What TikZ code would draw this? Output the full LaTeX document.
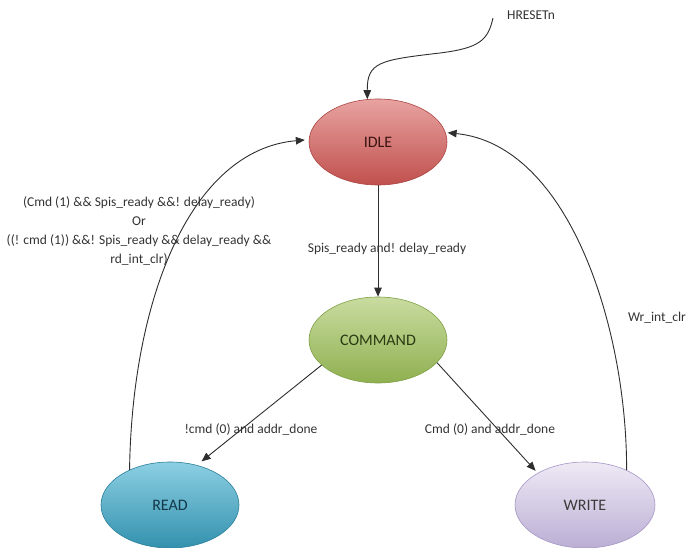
\documentclass[tikz,border=0pt]{standalone}
\usepackage{fontspec}
\setmainfont{Carlito}
\usetikzlibrary{arrows.meta,shapes.geometric}

\definecolor{edgegray}{HTML}{2E2E2E}
\definecolor{lbltext}{HTML}{333333}
% state fills: top, middle, bottom, border, text
\definecolor{idleT}{HTML}{E8A3A1}\definecolor{idleM}{HTML}{D26664}\definecolor{idleB}{HTML}{C0504D}
\definecolor{idleD}{HTML}{A94442}\definecolor{idleX}{HTML}{3B1413}
\definecolor{cmdT}{HTML}{C9DCA0}\definecolor{cmdM}{HTML}{A9C86A}\definecolor{cmdB}{HTML}{8FB050}
\definecolor{cmdD}{HTML}{7F9F44}\definecolor{cmdX}{HTML}{2A3A13}
\definecolor{rdT}{HTML}{8CCFE2}\definecolor{rdM}{HTML}{4BACC6}\definecolor{rdB}{HTML}{3391AE}
\definecolor{rdD}{HTML}{2A7F9A}\definecolor{rdX}{HTML}{12384A}
\definecolor{wrT}{HTML}{EEEAF5}\definecolor{wrM}{HTML}{D5CBE6}\definecolor{wrB}{HTML}{BBAED4}
\definecolor{wrD}{HTML}{A596C4}\definecolor{wrX}{HTML}{3A3A3A}

\tikzset{
  state/.style={ellipse, inner sep=0pt, minimum width=138pt, minimum height=86pt,
    line width=0.6pt, font=\fontsize{16}{18}\selectfont},
  idlestate/.style={state, draw=idleD, top color=idleT, middle color=idleM, bottom color=idleB, text=idleX},
  cmdstate/.style={state, draw=cmdD, top color=cmdT, middle color=cmdM, bottom color=cmdB, text=cmdX},
  readstate/.style={state, draw=rdD, top color=rdT, middle color=rdM, bottom color=rdB, text=rdX},
  writestate/.style={state, draw=wrD, top color=wrT, middle color=wrM, bottom color=wrB, text=wrX},
  lbl/.style={text=lbltext, inner sep=0pt, font=\fontsize{13.5}{19}\selectfont},
  trans/.style={draw=edgegray, line width=0.9pt, -{Triangle[length=9pt,width=7.5pt]}},
}

\begin{document}
\begin{tikzpicture}[x=1pt,y=-1pt]
  \useasboundingbox (0,0) rectangle (696,548);

  % states
  \node[idlestate]  (idle)    at (378,142) {IDLE};
  \node[cmdstate]   (command) at (378,340) {COMMAND};
  \node[readstate]  (read)    at (170,505) {READ};
  \node[writestate, minimum width=140pt] (write) at (585,505) {WRITE};

  % reset input
  \coordinate (rst) at (493,18);
  \node[lbl, anchor=west] (rstlbl) at (507,15) {HRESETn};
  \draw[trans] (rst) .. controls (488,40) and (480,48) .. (440,53)
                     .. controls (380,60) and (367,62) .. (idle.104);

  % transitions
  \draw[trans] (idle) -- (command);
  \draw[trans, shorten >=6pt] (command.204) -- (read.56);
  \draw[trans, shorten >=3pt] (command.339) -- (write.146);
  \draw[trans, shorten >=4pt] (read.139) .. controls (132,300) and (190,150) .. (idle.178);
  \draw[trans, shorten >=2pt] (write.40) .. controls (627,330) and (570,145) .. (idle.8);

  % transition conditions
  \node[lbl] (lidlecmd) at (387,249) {Spis\_ready and! delay\_ready};
  \node[lbl] (lcmdread) at (251,429) {!cmd (0) and addr\_done};
  \node[lbl] (lcmdwrite) at (490,429) {Cmd (0) and addr\_done};
  \node[lbl] (lwrite) at (657,318) {Wr\_int\_clr};
  \node[lbl, align=center] (lread) at (139,231)
    {(Cmd (1) \&\& Spis\_ready \&\&! delay\_ready)\\
     Or\\
     ((! cmd (1)) \&\&! Spis\_ready \&\& delay\_ready \&\&\\
     rd\_int\_clr)};
\end{tikzpicture}
\end{document}
